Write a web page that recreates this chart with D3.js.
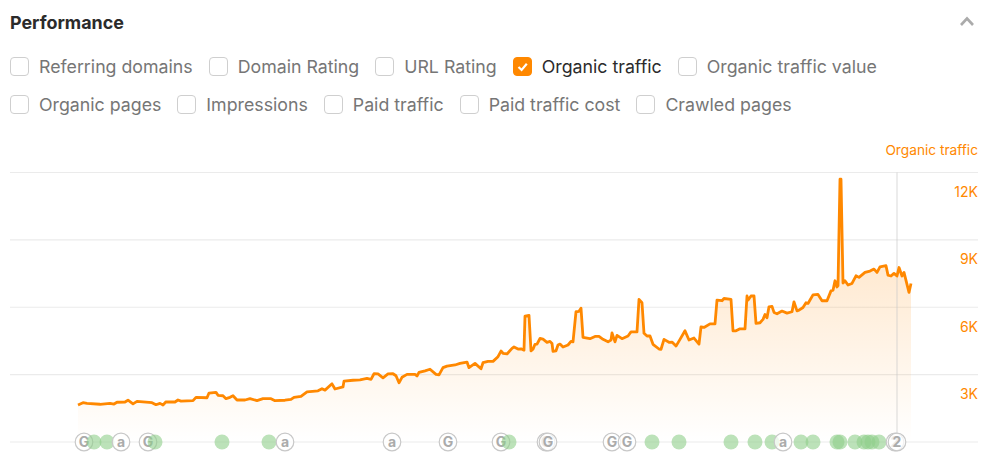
<!DOCTYPE html>
<html><head><meta charset="utf-8">
<script src="https://cdn.jsdelivr.net/npm/d3@7"></script>
<style>
html,body{margin:0;padding:0;background:#fff;width:994px;height:455px;overflow:hidden;font-family:Inter,sans-serif}
#title{position:absolute;left:10px;top:12px;font-size:17.9px;line-height:22px;font-weight:650;color:#2b2b2b}
#chev{position:absolute;left:958px;top:14px}
#metrics{position:absolute;left:10px;top:57px;width:975px;display:flex;flex-wrap:wrap;column-gap:16px;row-gap:19px}
.metric{display:flex;align-items:center;height:19px;font-size:17.75px;color:#767676;white-space:nowrap}
.metric.on{color:#2b2b2b}
.box{width:17px;height:17px;border:1px solid #cfcfcf;border-radius:4px;margin-right:10px;box-sizing:content-box;flex:none}
.metric.on .box{border-color:#ff8800;background:#ff8800}
svg.chart{position:absolute;left:0;top:0}
</style></head><body>
<div id="title">Performance</div>
<svg id="chev" width="18" height="14"><path d="M3 11 L9 4.5 L15 11" fill="none" stroke="#ababab" stroke-width="2.6"/></svg>
<div id="metrics"></div>
<svg class="chart" width="994" height="455"></svg>
<script>
const metricNames = ["Referring domains","Domain Rating","URL Rating","Organic traffic","Organic traffic value","Organic pages","Impressions","Paid traffic","Paid traffic cost","Crawled pages"];
const activeMetric = "Organic traffic";
const yTicks = [0,3,6,9,12];
const yTickLabels = ["","3K","6K","9K","12K"];
const days = [0,5,9,22,27,32,36,39,47,50,55,59,74,78,82,85,88,97,100,103,115,118,129,131,138,140,145,148,152,155,159,167,172,179,185,193,197,207,213,216,223,229,240,244,247,254,257,265,266,275,282,289,293,296,300,305,310,315,318,321,324,329,337,339,341,347,352,358,361,365,369,377,382,389,391,397,403,405,410,415,420,423,425,429,434,436,440,443,446,447,451,453,455,457,459,462,465,469,472,474,475,478,480,482,485,490,493,495,498,501,503,505,512,517,521,525,530,533,534,537,539,544,550,553,559,561,564,566,569,572,575,581,583,586,591,594,598,602,607,611,616,621,623,626,632,637,639,644,646,653,655,658,662,667,669,670,673,676,678,682,685,687,689,691,694,696,699,704,709,714,716,719,721,725,728,730,735,740,744,749,753,755,757,759,760,762,763,765,767,770,774,778,781,787,792,796,799,802,808,810,813,816,819,821,824,826,831,833];
const traffic = [1.65,1.75,1.72,1.68,1.70,1.72,1.69,1.77,1.78,1.86,1.70,1.81,1.75,1.66,1.72,1.65,1.79,1.78,1.87,1.82,1.84,1.99,1.97,2.18,2.21,2.08,2.06,1.93,1.99,2.06,1.87,1.87,1.93,1.84,1.93,1.93,1.84,1.86,1.90,1.99,2.03,2.23,2.28,2.37,2.31,2.59,2.36,2.45,2.71,2.75,2.77,2.83,2.79,3.04,3.03,2.86,3.03,3.04,2.95,2.64,2.88,3.01,3.01,2.94,3.10,3.17,3.24,3.01,2.99,3.31,3.38,3.43,3.50,3.56,3.31,3.50,3.26,3.53,3.59,3.59,3.80,4.05,3.95,3.92,4.17,4.23,4.14,4.15,4.09,5.61,5.64,4.06,4.13,4.35,4.36,4.61,4.58,4.44,4.48,4.39,4.04,4.06,4.32,4.36,4.23,4.32,4.48,4.46,5.80,5.82,5.96,4.66,4.60,4.70,4.70,4.57,4.46,4.54,4.86,4.46,4.75,4.60,4.72,4.90,4.90,6.35,6.20,4.84,4.72,4.72,4.35,4.14,4.13,4.57,4.44,4.45,4.27,4.57,4.95,4.54,4.63,4.36,5.13,5.10,5.26,5.26,6.32,6.29,6.39,6.35,4.95,4.95,5.04,5.04,6.50,6.32,6.50,6.51,5.28,5.31,5.46,5.68,5.53,6.02,6.04,5.77,5.71,5.83,5.74,5.80,6.24,5.84,5.87,5.99,6.20,6.17,6.55,6.57,6.29,6.29,6.73,6.76,7.18,6.90,6.96,11.70,11.70,7.08,7.18,6.99,7.06,7.40,7.33,7.55,7.61,7.70,7.55,7.80,7.85,7.43,7.39,7.51,7.39,7.77,7.39,7.55,6.66,7.06];
const noteDays = [6,43,70,207,314,370,423,468,470,534,549,705,817,819];
const noteLabels = ["G","a","G","a","a","G","G","G","G","G","G","a","2","2"];
const greenDays = [16,29,77,144,191,431,574,601,653,677,694,723,735,759,762,777,786,790,794,801];
const cursorDay = 819;

const metrics = d3.select("#metrics").selectAll(".metric").data(metricNames).join("div")
  .attr("class", d => "metric" + (d === activeMetric ? " on" : ""));
metrics.append("div").attr("class","box").each(function(d){
  if (d === activeMetric) d3.select(this).append("svg").attr("width",17).attr("height",17).style("display","block")
    .append("path").attr("d","M4.5 9 L7.6 12 L12.8 5.8").attr("fill","none").attr("stroke","#fff").attr("stroke-width",2.2);
});
metrics.append("span").text(d => d);

const svg = d3.select("svg.chart");
const ORANGE = "#ff8800";
const x = d3.scaleLinear().domain([0,833]).range([78,911]);
const y = d3.scaleLinear().domain([0,12]).range([442,172.5]);
const rows = d3.range(days.length);

const grad = svg.append("defs").append("linearGradient").attr("id","fade").attr("x1",0).attr("x2",0).attr("y1",0).attr("y2",1);
grad.append("stop").attr("offset","0%").attr("stop-color",ORANGE).attr("stop-opacity",0.27);
grad.append("stop").attr("offset","100%").attr("stop-color",ORANGE).attr("stop-opacity",0);

svg.append("g").selectAll("line").data(yTicks).join("line")
  .attr("x1",10).attr("x2",978).attr("y1",d=>y(d)).attr("y2",d=>y(d)).attr("stroke","#ebebeb").attr("stroke-width",1.2);

svg.append("path").datum(rows).attr("fill","url(#fade)")
  .attr("d", d3.area().x(i=>x(days[i])).y0(y(0)).y1(i=>y(traffic[i])));

svg.append("line").attr("x1",x(cursorDay)).attr("x2",x(cursorDay)).attr("y1",y(12)).attr("y2",y(0))
  .attr("stroke","#c9c9c9").attr("stroke-opacity",.7).attr("stroke-width",1);

svg.append("path").datum(rows).attr("fill","none").attr("stroke",ORANGE).attr("stroke-width",2.8).attr("stroke-linejoin","round")
  .attr("d", d3.line().x(i=>x(days[i])).y(i=>y(traffic[i])));

svg.append("g").selectAll("text").data(yTicks.filter(d=>d>0)).join("text")
  .attr("x",978).attr("y",d=>y(d)+24.5).attr("text-anchor","end")
  .attr("font-size",14).attr("fill",ORANGE).text(d=>yTickLabels[yTicks.indexOf(d)]);
svg.append("text").attr("x",978).attr("y",155).attr("text-anchor","end").attr("font-size",13.7).attr("fill",ORANGE).text("Organic traffic");

const marks = [
  ...noteDays.map((d,i)=>({day:d,label:noteLabels[i]})),
  ...greenDays.map(d=>({day:d,label:null}))
].sort((a,b)=>a.day-b.day);
const mg = svg.append("g").selectAll("g").data(marks).join("g")
  .attr("transform",d=>`translate(${x(d.day)},${y(0)})`);
mg.filter(d=>d.label===null).append("circle").attr("r",7.5).attr("fill","#8fce8a").attr("fill-opacity",.6);
const notes = mg.filter(d=>d.label!==null);
notes.append("circle").attr("r",8.8).attr("fill","#fff").attr("fill-opacity",.75).attr("stroke","#c8c8c8").attr("stroke-width",1.2);
notes.append("text").attr("text-anchor","middle").attr("y",5).attr("font-size",14).attr("font-weight",700).attr("fill","#ababab").text(d=>d.label);
</script>
</body></html>
